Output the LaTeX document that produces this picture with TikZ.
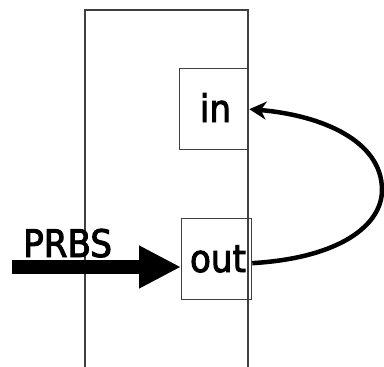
\documentclass[tikz,border=0pt]{standalone}
\usepackage{fontspec}
\setmainfont{DejaVu Sans Condensed}[FakeBold=2.5]
\usetikzlibrary{arrows.meta}
\begin{document}
\begin{tikzpicture}[x=1pt,y=-1pt,
  frame/.style={draw=black!75, line width=1.1pt},
  port/.style={draw=black!75, line width=1.3pt, minimum width=69pt, minimum height=81pt, inner sep=0pt, anchor=north west},
  txt/.style={font=\fontsize{38}{38}\selectfont, inner sep=0pt, anchor=base}]
\useasboundingbox (0,0) rectangle (384,367);
\draw[frame] (85,367) -- (85,10) -- (248,10) -- (248,367);
\node[port] (in) at (179,68) {};
\node[txt] (intxt) at (215.5,122) {in};
\node[port, minimum width=70pt] (out) at (181,218) {};
\node[txt] (outtxt) at (218,272) {out};
\node[txt, anchor=base west] (prbs) at (23,257) {PRBS};
\coordinate (src) at (12,267);
\draw[line width=14pt, -{Triangle[length=42pt,width=40pt]}] (src) -- (src -| out.west);
\draw[line width=4.5pt, -{Stealth[length=17pt,width=18pt]}] (out.east) ++(0,4) .. controls (340,258) and (382,225) .. (382,190) .. controls (382,140) and (320,115) .. (in.east);
\end{tikzpicture}
\end{document}
